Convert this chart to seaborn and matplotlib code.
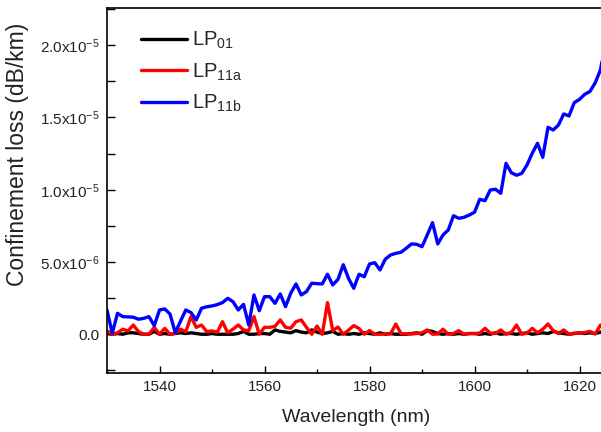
import numpy as np
import pandas as pd
import seaborn as sns
from matplotlib import pyplot as plt
from matplotlib.ticker import MultipleLocator

sns.set_style('ticks')
plt.rcParams['font.family'] = ['Liberation Sans', 'DejaVu Sans']
plt.rcParams['mathtext.fontset'] = 'custom'
plt.rcParams['mathtext.rm'] = 'Liberation Sans'
plt.rcParams['mathtext.default'] = 'regular'

# wavelength grid (nm) at 1 nm steps
wavelength = list(range(1530, 1626))

# confinement loss, units of 1e-6 dB/km
lp01 = [0.05, 0.0, 0.05, 0.0, 0.1, 0.1, 0.05, 0.0, 0.0, 0.2,
        0.0, 0.05, 0.0, 0.05, 0.1, 0.05, 0.1, 0.05, 0.0, 0.0,
        0.05, 0.0, 0.0, 0.0, 0.0, 0.05, 0.2, 0.0, 0.0, 0.05,
        0.05, 0.0, 0.3, 0.2, 0.15, 0.1, 0.25, 0.15, 0.1, 0.3,
        0.15, 0.05, 0.1, 0.2, 0.0, 0.05, 0.0, 0.05, 0.0, 0.1,
        0.05, 0.0, 0.1, 0.0, 0.05, 0.0, 0.0, 0.0, 0.05, 0.1,
        0.0, 0.25, 0.2, 0.05, 0.0, 0.05, 0.0, 0.05, 0.0, 0.05,
        0.05, 0.0, 0.05, 0.0, 0.1, 0.0, 0.05, 0.05, 0.0, 0.05,
        0.1, 0.0, 0.05, 0.1, 0.05, 0.2, 0.1, 0.05, 0.0, 0.05,
        0.1, 0.05, 0.1, 0.05, 0.15, 0.1]

lp11a = [0.23, 0.0, 0.1, 0.35, 0.23, 0.64, 0.18, 0.0, 0.0, 0.48,
         0.0, 0.41, 0.0, 0.07, 0.35, 0.18, 1.22, 0.48, 0.64, 0.18,
         0.23, 0.14, 0.87, 0.1, 0.35, 0.64, 0.3, 0.25, 1.22, 0.0,
         0.48, 0.48, 0.55, 0.99, 0.48, 0.42, 0.87, 0.99, 0.48, 0.0,
         0.57, 0.0, 2.19, 0.25, 0.5, 0.0, 0.28, 0.6, 0.4, 0.0,
         0.25, 0.0, 0.0, 0.02, 0.02, 0.71, 0.05, 0.02, 0.02, 0.05,
         0.1, 0.3, 0.0, 0.02, 0.35, 0.0, 0.05, 0.25, 0.0, 0.05,
         0.05, 0.08, 0.41, 0.08, 0.05, 0.3, 0.0, 0.12, 0.64, 0.0,
         0.08, 0.41, 0.1, 0.35, 0.71, 0.25, 0.05, 0.3, 0.0, 0.08,
         0.08, 0.12, 0.2, 0.02, 0.64, 0.3]

lp11b = [1.68, 0.07, 1.45, 1.22, 1.2, 1.18, 1.04, 1.1, 1.22, 0.6,
         1.68, 1.75, 1.4, 0.11, 0.9, 1.68, 1.5, 0.99, 1.8, 1.9,
         1.96, 2.05, 2.19, 2.49, 2.25, 1.68, 2.07, 0.64, 2.72, 1.63,
         2.6, 2.6, 2.14, 2.79, 1.91, 2.84, 3.48, 2.72, 2.95, 3.53,
         3.5, 3.48, 4.15, 3.41, 3.8, 4.81, 3.87, 3.18, 4.15, 3.98,
         4.86, 4.95, 4.45, 5.19, 5.48, 5.6, 5.67, 5.95, 6.25, 6.22,
         6.06, 6.87, 7.72, 6.25, 6.87, 7.21, 8.2, 8.02, 8.09, 8.25,
         8.44, 9.34, 9.24, 9.98, 10.03, 9.75, 11.83, 11.18, 11.0, 11.13,
         11.71, 12.52, 13.21, 12.24, 14.32, 14.13, 14.48, 15.24, 15.1, 16.02,
         16.25, 16.6, 16.8, 17.4, 18.3, 20.3]

modes = ['LP$_{01}$', 'LP$_{11a}$', 'LP$_{11b}$']
colors = ['#000000', '#ff0000', '#0000ff']

y_ticks = [0.0, 5e-6, 1e-5, 1.5e-5, 2e-5]
y_tick_labels = ['0.0', r'5.0x10$^{-6}\enspace$', r'1.0x10$^{-5}\enspace$',
                 r'1.5x10$^{-5}\enspace$', r'2.0x10$^{-5}\enspace$']
x_ticks = [1540, 1560, 1580, 1600, 1620]

df = pd.concat([
    pd.DataFrame({'Wavelength': wavelength,
                  'Loss': np.array(vals) * 1e-6,
                  'Mode': m})
    for m, vals in zip(modes, [lp01, lp11a, lp11b])
], ignore_index=True)

fig = plt.figure(figsize=(6.01, 4.32), dpi=100)
ax = fig.add_axes([107/601, 59/432, 504/601, 365/432])

sns.lineplot(data=df, x='Wavelength', y='Loss', hue='Mode',
             palette=dict(zip(modes, colors)), estimator=None,
             linewidth=2.4, ax=ax)

ax.set_xlim(1530, 1626)
ax.set_ylim(-2.68e-6, 2.257e-5)
ax.set_xticks(x_ticks)
ax.set_yticks(y_ticks)
ax.set_yticklabels(y_tick_labels)
ax.xaxis.set_minor_locator(MultipleLocator(10))
ax.yaxis.set_minor_locator(MultipleLocator(2.5e-6))

ax.tick_params(which='both', direction='in', top=False, right=False,
               labelsize=11, width=1.0, colors='black', labelcolor='#222222')
ax.tick_params(axis='x', which='major', length=5, pad=5)
ax.tick_params(axis='x', which='minor', length=3)
ax.tick_params(axis='y', which='both', length=5.5, pad=5.5)

for s in ['left', 'top', 'bottom']:
    ax.spines[s].set_linewidth(1.2)
    ax.spines[s].set_color('black')
ax.spines['right'].set_visible(False)

ax.set_xlabel('Wavelength (nm)', fontsize=14, color='#222222')
ax.set_ylabel('Confinement loss (dB/km)', fontsize=16.5, color='#222222')
ax.xaxis.set_label_coords(0.495, -0.10)
ax.yaxis.set_label_coords(-0.155, 0.60)

sns.move_legend(ax, 'upper left', bbox_to_anchor=(0.067, 0.94), title=None,
                frameon=False, fontsize=14.5, handlelength=2.3,
                handletextpad=0.25, labelspacing=0.5,
                borderpad=0, borderaxespad=0)

plt.savefig('out.png', dpi=100)
